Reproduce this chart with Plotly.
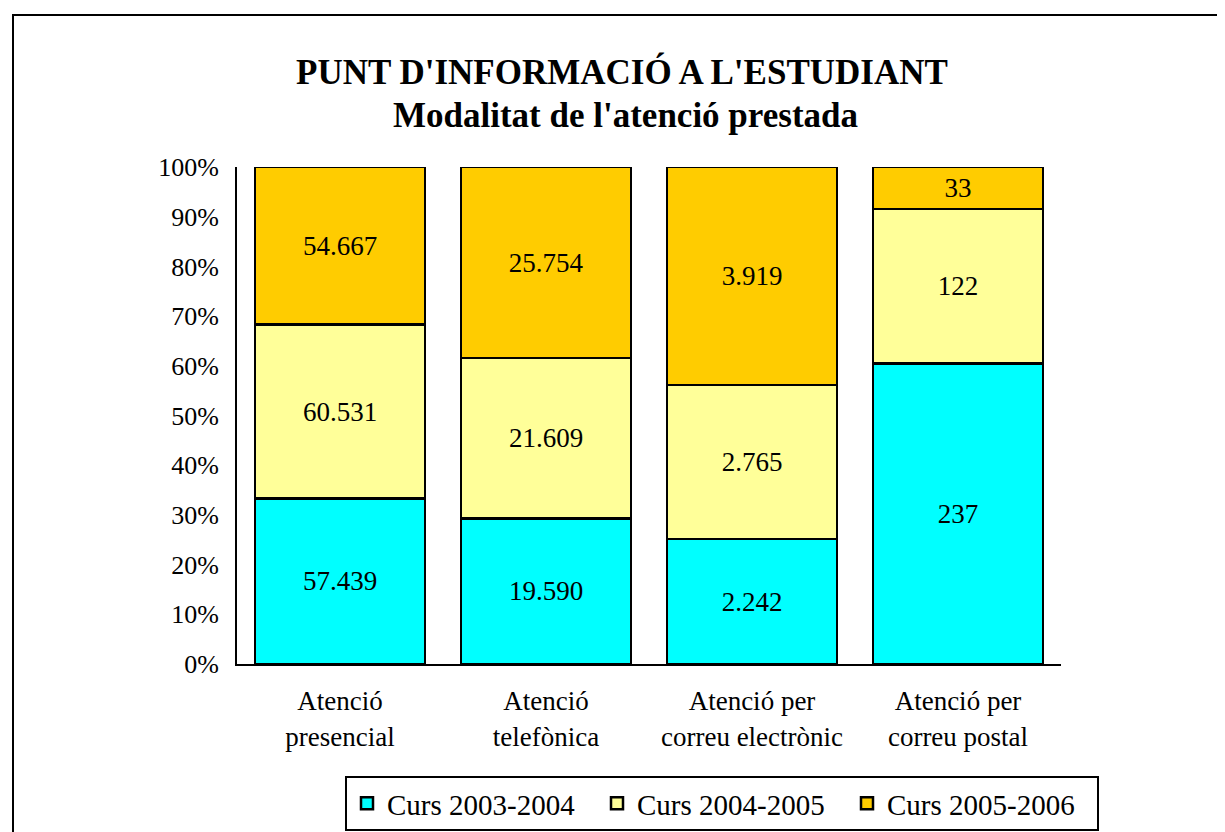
import plotly.graph_objects as go

categories = ["Atenció<br>presencial", "Atenció<br>telefònica",
              "Atenció per<br>correu electrònic", "Atenció per<br>correu postal"]
series_names = ["Curs 2003-2004", "Curs 2004-2005", "Curs 2005-2006"]
curs_2003_2004 = [57439, 19590, 2242, 237]
curs_2004_2005 = [60531, 21609, 2765, 122]
curs_2005_2006 = [54667, 25754, 3919, 33]
colors = ["#00FFFF", "#FFFF99", "#FFCC00"]
y_ticks = [0, 10, 20, 30, 40, 50, 60, 70, 80, 90, 100]
y_tick_labels = [f"{t}%" for t in y_ticks]

SERIF = "Liberation Serif, Times New Roman, serif"

def fmt(v):
    return f"{v:,}".replace(",", ".")

# page body adds an 8px offset; work in screen coords and subtract it
OFF = 8
W, H = 1225 - OFF, 832 - OFF
L, R, T, B = 237 - OFF, 1061 - OFF, 167 - OFF, 664 - OFF
PW = R - L
PH = B - T

def px(x):
    return (x - OFF - L) / PW

def py(y):
    return (B - (y - OFF)) / PH

fig = go.Figure()
for name, vals, col in zip(series_names, [curs_2003_2004, curs_2004_2005, curs_2005_2006], colors):
    fig.add_trace(go.Bar(
        x=categories, y=vals, name=name,
        marker=dict(color=col, line=dict(color="black", width=2.5)),
        text=[fmt(v) for v in vals],
        textposition="inside", insidetextanchor="middle", textangle=0,
        textfont=dict(family=SERIF, size=27, color="black"),
        hoverinfo="skip",
    ))

fig.update_layout(
    width=W, height=H,
    barmode="stack", barnorm="percent", bargap=0.175,
    paper_bgcolor="white", plot_bgcolor="white",
    margin=dict(l=L, r=W - R, t=T, b=H - B, autoexpand=False),
    font=dict(family=SERIF, color="black"),
    showlegend=True,
    legend=dict(
        orientation="h", xref="paper", yref="paper",
        x=px(345), y=py(776), xanchor="left", yanchor="top",
        bordercolor="black", borderwidth=2, bgcolor="white",
        font=dict(family=SERIF, size=29, color="black"),
        entrywidth=205, entrywidthmode="pixels",
        traceorder="normal",
    ),
    xaxis=dict(
        showline=True, linecolor="black", linewidth=2, ticks="",
        showgrid=False, tickfont=dict(family=SERIF, size=27, color="black"),
        ticklabelstandoff=12,
    ),
    yaxis=dict(
        range=[0, 100], tickvals=y_ticks, ticktext=y_tick_labels,
        showline=True, linecolor="black", linewidth=2, ticks="",
        showgrid=False, zeroline=False, ticklabelstandoff=11,
        tickfont=dict(family=SERIF, size=26, color="black"),
    ),
)

fig.add_annotation(
    xref="paper", yref="paper", x=px(622), y=py(72),
    text="<b>PUNT D'INFORMACIÓ A L'ESTUDIANT</b>", showarrow=False,
    font=dict(family=SERIF, size=35, color="black"), xanchor="center", yanchor="middle",
)
fig.add_annotation(
    xref="paper", yref="paper", x=px(625), y=py(115),
    text="<b>Modalitat de l'atenció prestada</b>", showarrow=False,
    font=dict(family=SERIF, size=35, color="black"), xanchor="center", yanchor="middle",
)

# outer chart frame
fig.add_shape(
    type="rect", xref="paper", yref="paper",
    x0=px(13), x1=px(1250),
    y0=py(860), y1=py(15),
    line=dict(color="black", width=2), fillcolor="rgba(0,0,0,0)", layer="below",
)

fig.write_html("out.html")
